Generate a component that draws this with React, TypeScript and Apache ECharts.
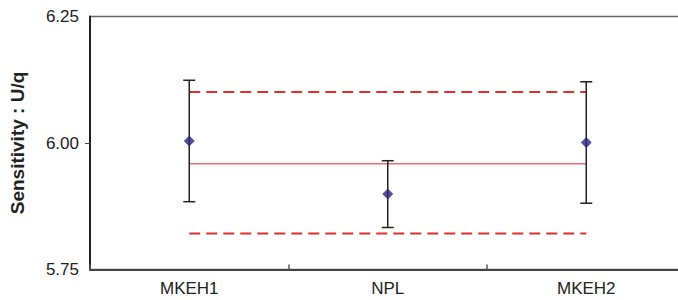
import React, { useEffect, useRef } from "react";
import * as echarts from "echarts";

const categories = ["MKEH1", "NPL", "MKEH2"];
const means = [6.004, 5.899, 6.001];
const lowerErr = [5.884, 5.833, 5.881];
const upperErr = [6.124, 5.965, 6.121];
const refValue = 5.959;
const upperLimit = 6.101;
const lowerLimit = 5.821;
const yTicks = [5.75, 6.0, 6.25];

export default function App() {
  const ref = useRef<HTMLDivElement>(null);
  useEffect(() => {
    if (!ref.current) return;
    const chart = echarts.init(ref.current, null, { renderer: "svg" });
    const font = "'Liberation Sans', Arial, Helvetica, sans-serif";
    chart.setOption({
      animation: false,
      backgroundColor: "#ffffff",
      grid: {
        left: 90,
        top: 16.5,
        width: 595.5,
        height: 253,
        outerBoundsMode: "none",
        containLabel: false,
        show: true,
        borderColor: "#666",
        borderWidth: 1.5,
        backgroundColor: "transparent",
      },
      xAxis: {
        type: "category",
        data: categories,
        boundaryGap: true,
        axisLine: { lineStyle: { color: "#444", width: 2 } },
        axisTick: { show: true, inside: true, length: 5, lineStyle: { color: "#555", width: 1.5 } },
        axisLabel: { color: "#222", fontSize: 17, fontFamily: font, margin: 10 },
        splitLine: { show: false },
      },
      yAxis: {
        type: "value",
        min: 5.75,
        max: 6.25,
        interval: 0.25,
        name: "Sensitivity : U/q",
        nameLocation: "middle",
        nameRotate: 90,
        nameGap: 63,
        nameTextStyle: { color: "#222", fontSize: 19, fontWeight: "bold", fontFamily: font },
        axisLine: { show: true, lineStyle: { color: "#222", width: 2 } },
        axisTick: { show: true, length: 5, customValues: [6.0], lineStyle: { color: "#444", width: 1 } },
        axisLabel: {
          color: "#222",
          fontSize: 17,
          fontFamily: font,
          margin: 11,
          customValues: yTicks,
          formatter: (v: number) => v.toFixed(2),
        },
        splitLine: { show: false },
      },
      series: [
        {
          type: "line",
          data: categories.map(() => upperLimit),
          symbol: "none",
          lineStyle: { color: "#e0302a", width: 2, type: [11, 6] },
          z: 2,
        },
        {
          type: "line",
          data: categories.map(() => lowerLimit),
          symbol: "none",
          lineStyle: { color: "#e0302a", width: 2, type: [11, 6] },
          z: 2,
        },
        {
          type: "line",
          data: categories.map(() => refValue),
          symbol: "none",
          lineStyle: { color: "#e87070", width: 1.5 },
          z: 2,
        },
        {
          type: "custom",
          data: categories.map((_, i) => [i, lowerErr[i], upperErr[i]]),
          renderItem: (params: any, api: any) => {
            const idx = api.value(0);
            const lo = api.coord([idx, api.value(1)]);
            const hi = api.coord([idx, api.value(2)]);
            const hw = 6;
            const style = { stroke: "#222", lineWidth: 1.5 };
            return {
              type: "group",
              children: [
                { type: "line", shape: { x1: lo[0], y1: lo[1], x2: hi[0], y2: hi[1] }, style },
                { type: "line", shape: { x1: hi[0] - hw, y1: hi[1], x2: hi[0] + hw, y2: hi[1] }, style },
                { type: "line", shape: { x1: lo[0] - hw, y1: lo[1], x2: lo[0] + hw, y2: lo[1] }, style },
              ],
            };
          },
          z: 3,
        },
        {
          type: "scatter",
          data: means,
          symbol: "diamond",
          symbolSize: [11, 11],
          itemStyle: { color: "#2a2680" },
          z: 4,
        },
      ],
    });
    return () => chart.dispose();
  }, []);
  return (
    <div
      ref={ref}
      style={{ position: "fixed", left: 0, top: 0, width: 678, height: 300 }}
    />
  );
}
